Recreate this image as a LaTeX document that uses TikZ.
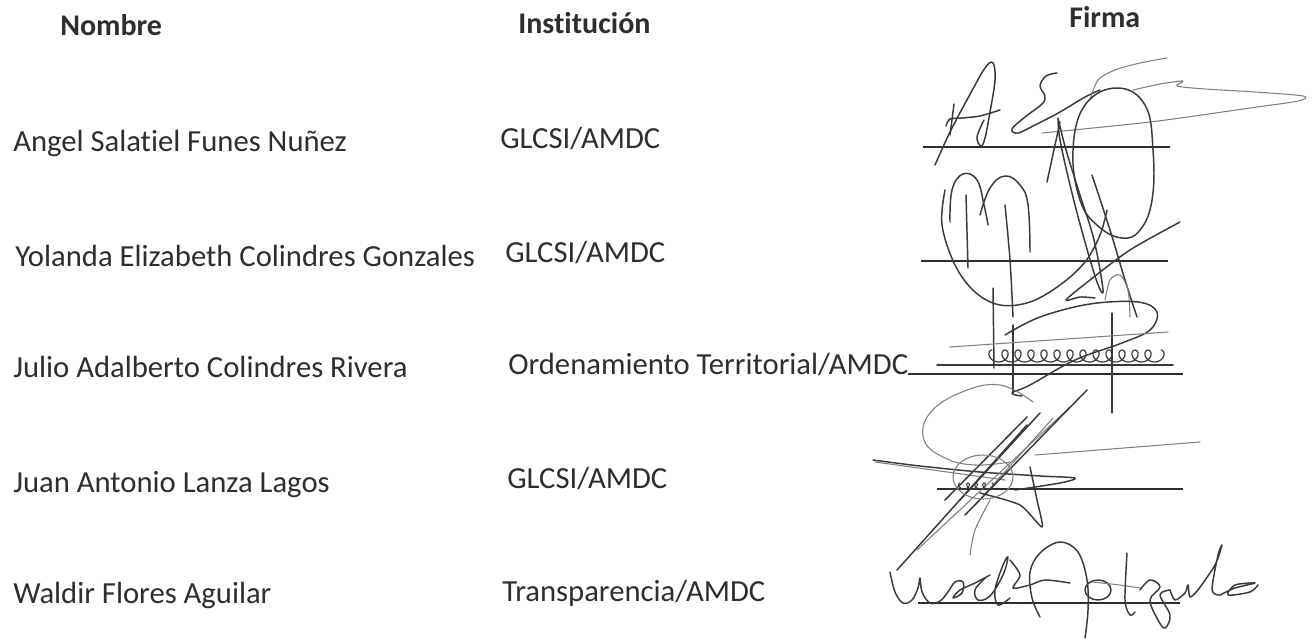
\documentclass[tikz,border=0pt]{standalone}
\usepackage{fontspec}
\setmainfont{Carlito}[Ligatures={NoCommon}]
\definecolor{ink}{HTML}{2E2E2E}
\definecolor{pen}{HTML}{3A3A3A}
\definecolor{penl}{HTML}{808080}
\begin{document}
\begin{tikzpicture}[x=0.75pt,y=-0.75pt,
  txt/.style={anchor=base west,inner sep=0pt,text=ink,font=\fontsize{23}{27}\selectfont},
  hdr/.style={anchor=base west,inner sep=0pt,text=ink,font=\fontsize{22.5}{27}\selectfont\bfseries},
  sigline/.style={draw=ink,line width=1.1pt},
  sig/.style={draw=pen,line width=1.1pt,line cap=round,line join=round},
  sigl/.style={draw=penl,line width=0.8pt,line cap=round,line join=round}]
\useasboundingbox[fill=white] (0,0) rectangle (1316,639);

% headers
\node[hdr] (hNombre) at (60,36) {Nombre};
\node[hdr] (hInst) at (518,33) {Institución};
\node[hdr] (hFirma) at (1069,27) {Firma};

% rows
\node[txt] (n1) at (13,151) {Angel Salatiel Funes Nuñez};
\node[txt] (i1) at (500,148) {GLCSI/AMDC};
\node[txt] (n2) at (15,266) {Yolanda Elizabeth Colindres Gonzales};
\node[txt] (i2) at (505,262) {GLCSI/AMDC};
\node[txt] (n3) at (13,377) {Julio Adalberto Colindres Rivera};
\node[txt] (i3) at (508,374) {Ordenamiento Territorial/AMDC};
\node[txt] (n4) at (13,492) {Juan Antonio Lanza Lagos};
\node[txt] (i4) at (507,488) {GLCSI/AMDC};
\node[txt] (n5) at (13,603) {Waldir Flores Aguilar};
\node[txt] (i5) at (502,601) {Transparencia/AMDC};

% signature lines
\coordinate (l1a) at (923,147); \coordinate (l1b) at (1170,147);
\coordinate (l2a) at (921,261); \coordinate (l2b) at (1168,261);
\coordinate (l3a) at (i3.base east); \coordinate (l3b) at (1183,374);
\coordinate (l4a) at (937,489); \coordinate (l4b) at (1183,489);
\coordinate (l5a) at (918,603); \coordinate (l5b) at (1180,603);
\draw[sigline] (l1a) -- (l1b);
\draw[sigline] (l2a) -- (l2b);
\draw[sigline] (l3a) -- (l3b);
\draw[sigline] (l4a) -- (l4b);
\draw[sigline] (l5a) -- (l5b);

% ---- signature 1
\draw[sig] plot[smooth,tension=0.6] coordinates {(935,165) (950,132) (968,98) (985,68) (993,63) (995,80) (990,112) (985,138) (981,146) (977,137) (984,120)};
\draw[sig] (954,104) -- (950,135);
\draw[sig] plot[smooth] coordinates {(946,126) (950,119) (962,118) (980,116) (1000,110)};
\draw[sig] plot[smooth,tension=0.6] coordinates {(1057,73) (1046,76) (1040,86) (1045,96) (1042,104) (1025,117) (1012,129) (1018,133) (1035,125) (1060,112) (1085,97) (1100,90)};
\draw[sigl] plot[smooth] coordinates {(1090,100) (1098,80) (1115,70) (1140,63) (1167,58)};
\draw[sigl] plot[smooth,tension=0.5] coordinates {(1133,90) (1160,84) (1183,81) (1177,86) (1205,89) (1255,92) (1303,96) (1298,101) (1250,108) (1150,122) (1042,133)};
\draw[sig] plot[smooth cycle,tension=0.7] coordinates {(1117,88) (1145,105) (1153,150) (1152,200) (1140,230) (1122,238) (1098,226) (1080,200) (1073,150) (1085,105)};
\draw[sig] plot[smooth,tension=0.6] coordinates {(1058,118) (1066,150) (1080,195) (1094,240) (1103,290) (1097,282) (1083,235) (1070,185) (1060,140) (1058,118)};
\draw[sig] (1060,122) -- (1047,182);
\draw[sig] plot[smooth] coordinates {(1092,175) (1110,230) (1125,280) (1137,317)};
\draw[sig] plot[smooth,tension=0.5] coordinates {(1180,222) (1130,250) (1090,280) (1066,300) (1080,297) (1095,298)};

% ---- signature 2
\draw[sig] plot[smooth,tension=0.7] coordinates {(950,222) (952,190) (963,174) (977,180) (984,205) (988,225)};
\draw[sig] plot[smooth,tension=0.7] coordinates {(980,215) (990,188) (1005,176) (1020,185) (1028,205) (1030,252)};
\draw[sig] plot[smooth,tension=0.6] coordinates {(945,190) (942,225) (955,265) (975,292) (1000,305) (1030,302) (1060,285) (1085,262) (1100,235) (1107,210)};
\draw[sig] (966,195) -- (968,268);
\draw[sig] plot[smooth] coordinates {(1005,205) (1010,260) (1013,317)};
\draw[sigl] plot[smooth] coordinates {(1105,300) (1110,280) (1120,275) (1128,290) (1130,317)};

% ---- signature 3
\draw[sig] plot[smooth,tension=0.6] coordinates {(1005,335) (1040,317) (1090,304) (1138,302) (1157,312) (1150,330) (1122,343) (1075,360) (1030,385) (1012,393) (1022,396)};
\draw[sig,line width=0.9pt] plot[domain=0:4680,samples=260,smooth] ({992+13*(\x/360)-6*sin(\x)},{356-6*cos(\x)});
\draw[sig] (993,288) -- (994,368);
\draw[sig] (1013,325) -- (1013,393);
\draw[sig] (1112,313) -- (1112,413);
\draw[sigl] (950,347) -- (1168,332);
\draw[sig] (937,365) -- (1173,365);

% ---- signature 4
\draw[sigl] plot[smooth,tension=0.7] coordinates {(1033,402) (1000,385) (962,392) (930,413) (924,440) (945,458) (975,465) (1010,462)};
\draw[sig] plot[smooth,tension=0.5] coordinates {(873,460) (920,466) (980,472) (1040,476) (1075,478) (1060,483) (1015,490)};
\draw[sigl] (1035,455) -- (1200,442);
\draw[sigl] (875,462) -- (1005,480);
\draw[sig] (897,570) -- (1027,425);
\draw[sigl] (917,550) -- (1070,407);
\draw[sig] (945,500) -- (1027,417);
\draw[sig] (960,500) -- (1040,413);
\draw[sigl] (975,505) -- (1053,418);
\draw[sig] (965,515) -- (1087,390);
\draw[sig] plot[smooth,tension=0.4] coordinates {(1030,467) (1037,500) (1042,527) (1020,505) (980,493)};
\draw[sigl] (983,477) ellipse [x radius=30, y radius=22];
\draw[sigl] plot[smooth] coordinates {(970,555) (975,530) (990,500)};
\draw[sig,line width=0.8pt] plot[domain=0:1440,samples=80,smooth] ({960+8*(\x/360)-3*sin(\x)},{486-3*cos(\x)});

% ---- signature 5
\draw[sig] plot[smooth,tension=0.6] coordinates {(890,572) (895,592) (903,603) (912,600) (918,588) (920,578) (922,592) (930,603) (940,601) (948,592) (955,582) (963,582) (962,593) (953,598) (960,590) (975,583) (990,575)};
\draw[sig] plot[smooth,tension=0.6] coordinates {(985,578) (975,590) (978,600) (990,596) (1003,575) (1008,557) (1003,565) (995,590) (998,605) (1010,598)};
\draw[sig] plot[smooth] coordinates {(1010,560) (1020,575) (1013,588) (1030,585) (1045,580) (1070,583)};
\draw[sig] plot[smooth,tension=0.6] coordinates {(1040,617) (1032,598) (1030,572) (1040,553) (1060,542) (1078,552) (1087,580) (1088,610) (1085,638)};
\draw[sig] (1098,590) ellipse [x radius=13, y radius=10];
\draw[sigl] plot[smooth] coordinates {(1092,582) (1120,585) (1140,588)};
\draw[sig] plot[smooth] coordinates {(1127,553) (1125,600) (1130,615) (1135,612)};
\draw[sig] plot[smooth,tension=0.6] coordinates {(1140,590) (1150,580) (1160,587) (1150,600) (1158,620) (1165,628) (1170,615) (1160,595) (1170,590)};
\draw[sig] plot[smooth] coordinates {(1170,590) (1175,600) (1185,593) (1188,585) (1190,597) (1198,590)};
\draw[sig] plot[smooth] coordinates {(1198,590) (1215,565) (1222,545) (1218,555) (1212,590) (1220,595)};
\draw[sig] plot[smooth] coordinates {(1220,595) (1235,588) (1255,583) (1235,585) (1228,595) (1250,592) (1258,585)};
\end{tikzpicture}
\end{document}
